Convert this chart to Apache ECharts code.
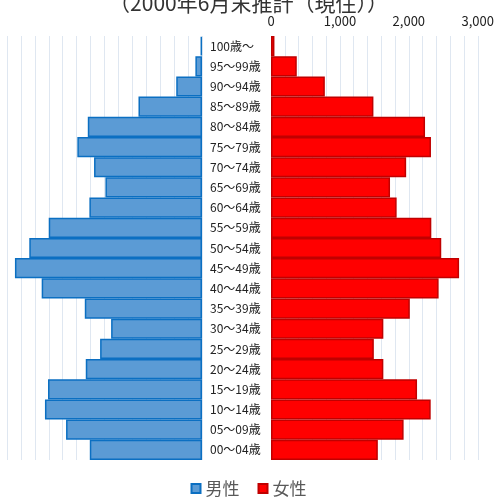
<!DOCTYPE html>
<html>
<head>
<meta charset="utf-8">
<script src="https://cdn.jsdelivr.net/npm/echarts@6/dist/echarts.min.js"></script>
<style>html,body{margin:0;padding:0;background:#fff;}#c{width:497px;height:501px;}</style>
</head>
<body>
<div id="c"></div>
<script>
const titleText = '（2000年6月末推計（現住））';
const ageGroups = ['100歳～','95～99歳','90～94歳','85～89歳','80～84歳','75～79歳','70～74歳','65～69歳','60～64歳','55～59歳','50～54歳','45～49歳','40～44歳','35～39歳','30～34歳','25～29歳','20～24歳','15～19歳','10～14歳','05～09歳','00～04歳'];
const maleValues = [20,95,370,912,1640,1790,1550,1387,1617,2201,2480,2686,2302,1683,1305,1463,1669,2211,2255,1952,1611];
const femaleValues = [50,374,781,1486,2235,2321,1961,1727,1823,2326,2470,2729,2432,2014,1630,1492,1630,2119,2317,1924,1550];
const seriesNames = ['男性','女性'];
const xTickValues = [0,1000,2000,3000];

const font = 'Noto Sans CJK JP, Noto Sans, sans-serif';
const gridLine = {show:true, lineStyle:{color:'#dfe7f1', width:1}};
const chart = echarts.init(document.getElementById('c'));
chart.setOption({
  animation:false,
  textStyle:{fontFamily:font},
  title:{text:titleText, left:'center', top:-12, textStyle:{fontSize:21, fontWeight:'normal', color:'#333', fontFamily:font}},
  legend:{bottom:-1, left:'center', itemWidth:9, itemHeight:9, icon:'rect', itemGap:18,
    textStyle:{fontSize:17, color:'#595959', fontFamily:font}, data:seriesNames},
  grid:[
    {left:7, width:195, top:36, height:424},
    {left:271, width:208.5, top:36, height:424}
  ],
  xAxis:[
    {gridIndex:0, type:'value', inverse:true, min:0, max:2800, interval:200, position:'top',
      axisLine:{show:false}, axisTick:{show:false}, axisLabel:{show:false}, splitLine:gridLine},
    {gridIndex:1, type:'value', min:0, max:3000, interval:200, position:'top',
      axisLine:{show:false}, axisTick:{show:false}, splitLine:gridLine,
      axisLabel:{color:'#222', fontSize:13, margin:8, fontFamily:font,
        formatter:v => xTickValues.includes(v) ? v.toLocaleString('en-US') : ''}}
  ],
  yAxis:[
    {gridIndex:0, type:'category', data:ageGroups, inverse:true, position:'right',
      axisLine:{show:false}, axisTick:{show:false},
      axisLabel:{color:'#222', fontSize:12, margin:8, align:'left', fontFamily:font}},
    {gridIndex:1, type:'category', data:ageGroups, inverse:true,
      axisLine:{show:false}, axisTick:{show:false}, axisLabel:{show:false}}
  ],
  series:[
    {name:seriesNames[0], type:'bar', xAxisIndex:0, yAxisIndex:0, data:maleValues, barCategoryGap:0,
      itemStyle:{color:'#5b9bd5', borderColor:'#0b6fc2', borderWidth:1.5}},
    {name:seriesNames[1], type:'bar', xAxisIndex:1, yAxisIndex:1, data:femaleValues, barCategoryGap:0,
      itemStyle:{color:'#ff0000', borderColor:'#c00000', borderWidth:1.5}}
  ]
});
</script>
</body>
</html>
